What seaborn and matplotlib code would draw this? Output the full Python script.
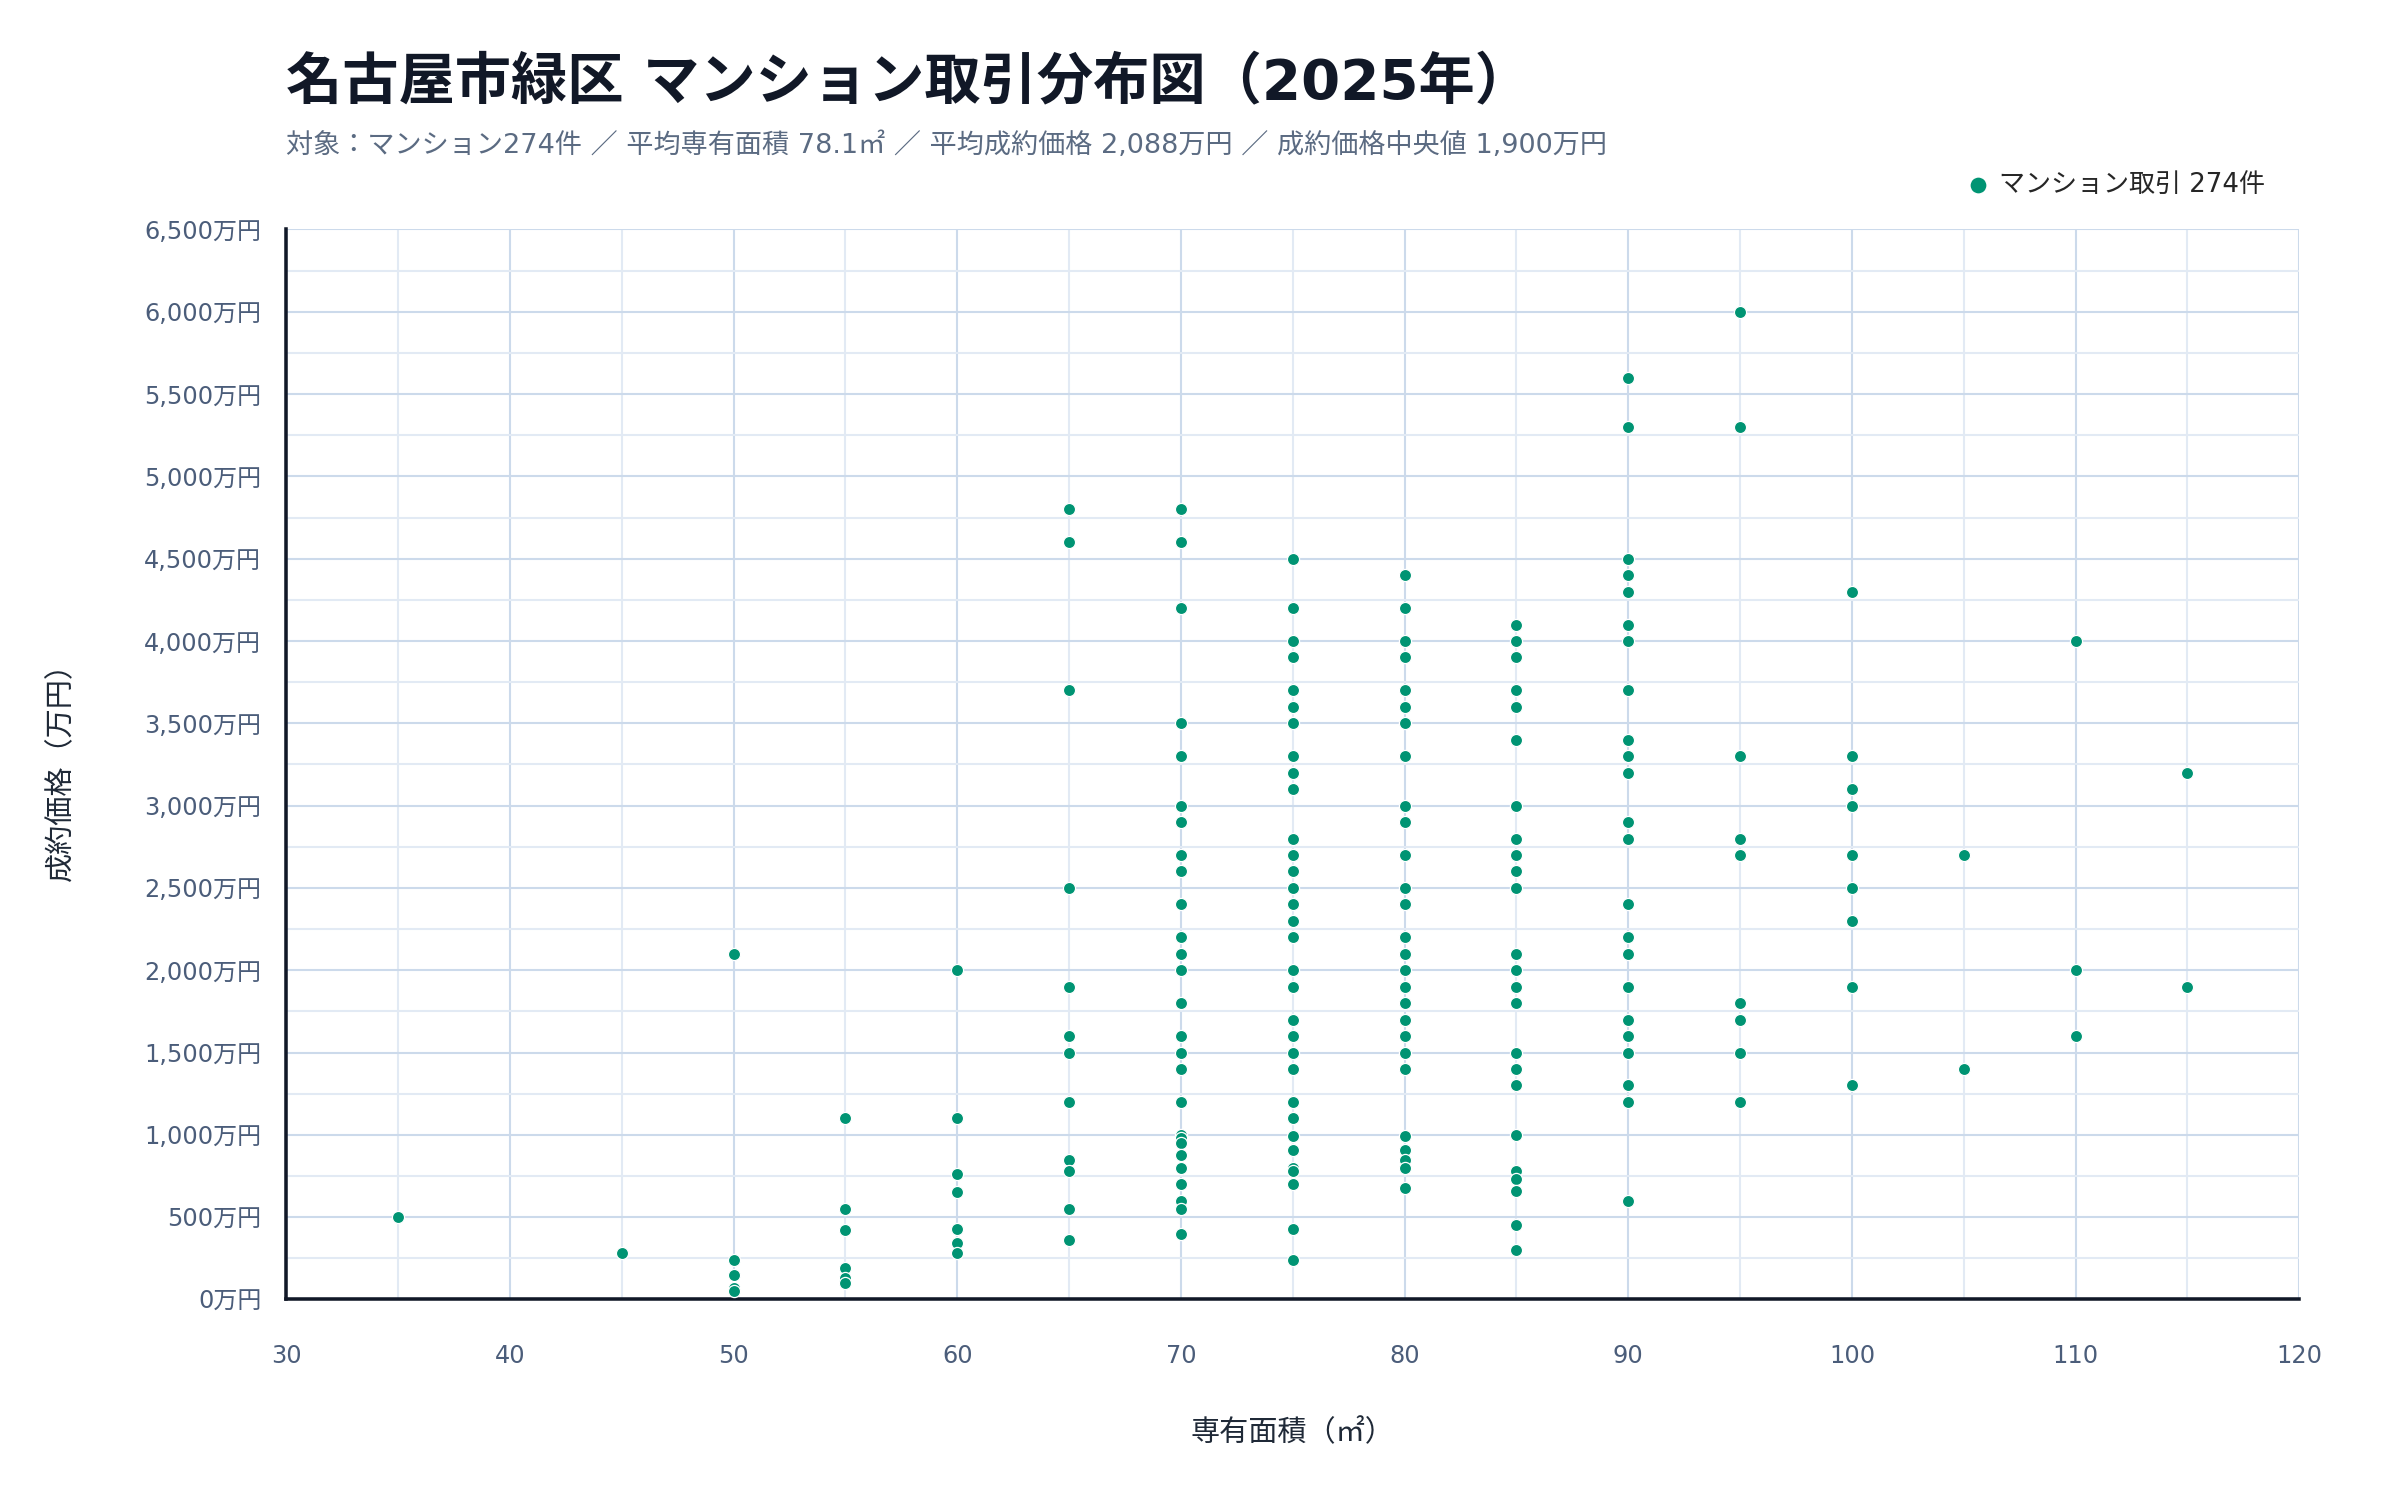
import pandas as pd
import matplotlib
matplotlib.use("Agg")
import matplotlib.pyplot as plt
from matplotlib.ticker import MultipleLocator, FuncFormatter
import seaborn as sns

# 専有面積ごとの成約価格（万円）— 図から読み取り
p35 = [500]
p45 = [280]
p50 = [2100, 240, 150, 70, 50]
p55 = [1100, 550, 420, 190, 130, 100]
p60 = [2000, 1100, 760, 650, 430, 340, 280]
p65 = [4800, 4600, 3700, 2500, 1900, 1600, 1500, 1200, 850, 780, 550, 360]
p70 = [4800, 4600, 4200, 3500, 3300, 3000, 2900, 2700, 2600, 2400, 2200, 2100,
       2000, 1800, 1600, 1500, 1400, 1200, 1000, 980, 950, 880, 800, 700, 600,
       550, 400]
p75 = [4500, 4200, 4000, 3900, 3700, 3600, 3500, 3300, 3200, 3100, 2800, 2700,
       2600, 2500, 2400, 2300, 2200, 2000, 1900, 1700, 1600, 1500, 1400, 1200,
       1100, 990, 910, 800, 780, 700, 430, 240]
p80 = [4400, 4200, 4000, 3900, 3700, 3600, 3500, 3300, 3000, 2900, 2700, 2500,
       2400, 2200, 2100, 2000, 1900, 1800, 1700, 1600, 1500, 1400, 990, 910,
       850, 800, 680]
p85 = [4100, 4000, 3900, 3700, 3600, 3400, 3000, 2800, 2700, 2600, 2500, 2100,
       2000, 1900, 1800, 1500, 1400, 1300, 1000, 780, 730, 660, 450, 300]
p90 = [5600, 5300, 4500, 4400, 4300, 4100, 4000, 3700, 3400, 3300, 3200, 2900,
       2800, 2400, 2200, 2100, 1900, 1700, 1600, 1500, 1300, 1200, 600]
p95 = [6000, 5300, 3300, 2800, 2700, 1800, 1700, 1500, 1200]
p100 = [4300, 3300, 3100, 3000, 2700, 2500, 2300, 1900, 1300]
p105 = [2700, 1400]
p110 = [4000, 2000, 1600]
p115 = [3200, 1900]

price_lists = {35: p35, 45: p45, 50: p50, 55: p55, 60: p60, 65: p65, 70: p70,
               75: p75, 80: p80, 85: p85, 90: p90, 95: p95, 100: p100,
               105: p105, 110: p110, 115: p115}

title = "名古屋市緑区 マンション取引分布図（2025年）"
subtitle = ("対象：マンション274件 ／ 平均専有面積 78.1㎡ ／ 平均成約価格 2,088万円 ／ "
            "成約価格中央値 1,900万円")
legend_label = "マンション取引 274件"
x_label = "専有面積（㎡）"
y_label = "成約価格（万円）"

GREEN = "#009473"


def main():
    rows = [(a, p) for a, ps in price_lists.items() for p in ps]
    df = pd.DataFrame(rows, columns=["area", "price"])

    sns.set_theme(style="white")
    plt.rcParams["font.family"] = ["DejaVu Sans", "Noto Sans CJK JP"]

    fig = plt.figure(figsize=(16, 10), dpi=150)
    ax = fig.add_axes([0.1193, 0.1337, 0.8387, 0.7133])

    sns.scatterplot(data=df, x="area", y="price", ax=ax, color=GREEN, s=34,
                    edgecolor="white", linewidth=0.6, label=legend_label,
                    zorder=3)

    ax.set_xlim(30, 120)
    ax.set_ylim(0, 6500)
    ax.xaxis.set_major_locator(MultipleLocator(10))
    ax.xaxis.set_minor_locator(MultipleLocator(5))
    ax.yaxis.set_major_locator(MultipleLocator(500))
    ax.yaxis.set_minor_locator(MultipleLocator(250))
    ax.yaxis.set_major_formatter(FuncFormatter(lambda v, _: f"{int(v):,}万円"))

    ax.grid(which="major", color="#ccdaeb", linewidth=1.0, zorder=0)
    ax.grid(which="minor", color="#e2eaf4", linewidth=1.0, zorder=0)
    ax.set_axisbelow(True)

    for side in ["top", "right"]:
        ax.spines[side].set_visible(False)
    for side in ["left", "bottom"]:
        ax.spines[side].set_color("#111827")
        ax.spines[side].set_linewidth(1.7)

    ax.tick_params(axis="x", which="both", length=0, pad=21.5,
                   labelsize=11.5, labelcolor="#4b5d7a")
    ax.tick_params(axis="y", which="both", length=0, pad=12,
                   labelsize=11.5, labelcolor="#4b5d7a")

    ax.set_xlabel(x_label, fontsize=14, color="#1f2937", labelpad=24)
    ax.set_ylabel(y_label, fontsize=14, color="#1f2937", labelpad=33)

    fig.text(0.1193, 0.944, title, fontsize=27, fontweight="bold",
             color="#111827", va="center", ha="left")
    fig.text(0.1193, 0.903, subtitle, fontsize=13, color="#5b6b82",
             va="center", ha="left")

    ax.legend(loc="center left", bbox_to_anchor=(0.809, 0.877),
              bbox_transform=fig.transFigure, frameon=False, fontsize=12.5,
              markerscale=1.4, handletextpad=-0.2, borderaxespad=0)

    fig.savefig("out.png", dpi=150, facecolor="white")
    plt.close(fig)


if __name__ == "__main__":
    main()
